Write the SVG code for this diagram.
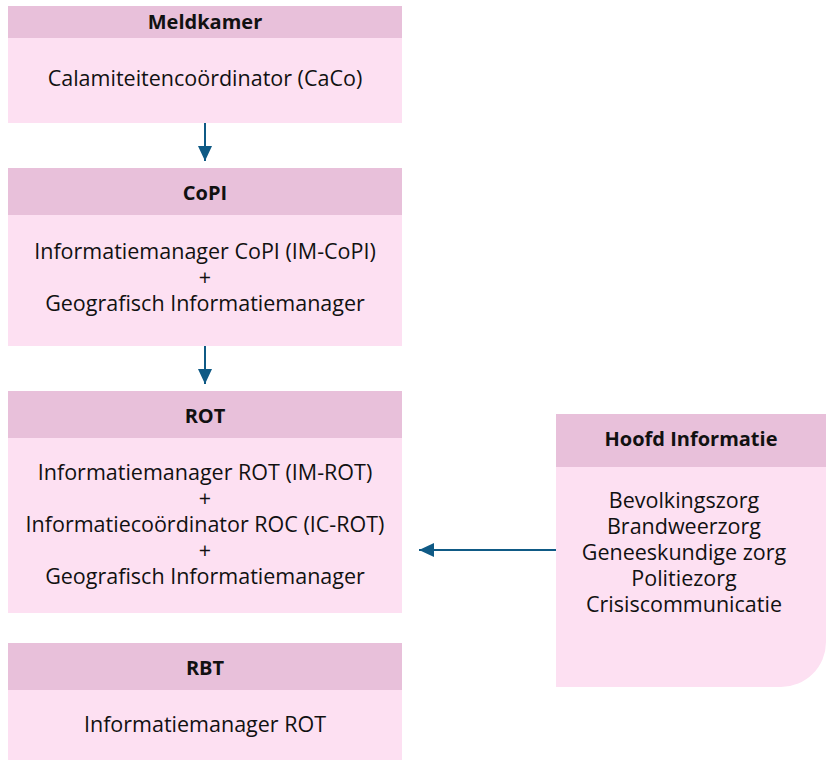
<svg xmlns="http://www.w3.org/2000/svg" width="826" height="760" viewBox="0 0 826 760">
<style>
.hd{fill:#E8C0DA}
.bd{fill:#FDE0F2}
text{font-family:"Open Sans","Noto Sans","Liberation Sans",sans-serif;font-size:21.5px;fill:#111;text-anchor:middle}
.t{font-weight:bold;font-size:20px}
.c{stroke:#0F5A85;stroke-width:2;fill:none}
</style>
<defs>
<marker id="ah" viewBox="0 0 10 10" refX="10" refY="5" markerWidth="15" markerHeight="14" markerUnits="userSpaceOnUse" orient="auto" preserveAspectRatio="none"><path d="M0,0 L10,5 L0,10 z" fill="#0F5A85"/></marker>
</defs>
<rect width="826" height="760" fill="#fff"/>
<g id="meldkamer">
<rect class="bd" x="8" y="6" width="394" height="117"/>
<rect class="hd" x="8" y="6" width="394" height="32"/>
<text class="t" x="205" y="29">Meldkamer</text>
<text x="205" y="86">Calamiteitencoördinator (CaCo)</text>
</g>
<g id="copi">
<rect class="bd" x="8" y="168" width="394" height="178"/>
<rect class="hd" x="8" y="168" width="394" height="47"/>
<text class="t" x="205" y="200">CoPI</text>
<text x="205" y="259">Informatiemanager CoPI (IM-CoPI)</text>
<text x="205" y="285">+</text>
<text x="205" y="311">Geografisch Informatiemanager</text>
</g>
<g id="rot">
<rect class="bd" x="8" y="391" width="394" height="222"/>
<rect class="hd" x="8" y="391" width="394" height="47"/>
<text class="t" x="205" y="423">ROT</text>
<text x="205" y="480">Informatiemanager ROT (IM-ROT)</text>
<text x="205" y="506">+</text>
<text x="205" y="532">Informatiecoördinator ROC (IC-ROT)</text>
<text x="205" y="558">+</text>
<text x="205" y="584">Geografisch Informatiemanager</text>
</g>
<g id="rbt">
<rect class="bd" x="8" y="643" width="394" height="117"/>
<rect class="hd" x="8" y="643" width="394" height="47"/>
<text class="t" x="205" y="675">RBT</text>
<text x="205" y="732">Informatiemanager ROT</text>
</g>
<g id="hoofd-informatie">
<path class="bd" d="M556,414 H826 V642 A45,45 0 0 1 781,687 H556 Z"/>
<rect class="hd" x="556" y="414" width="270" height="53"/>
<text class="t" x="691" y="446">Hoofd Informatie</text>
<text x="684" y="508">Bevolkingszorg</text>
<text x="684" y="534">Brandweerzorg</text>
<text x="684" y="560">Geneeskundige zorg</text>
<text x="684" y="586">Politiezorg</text>
<text x="684" y="612">Crisiscommunicatie</text>
</g>
<g id="connectors">
<line class="c" x1="205" y1="123" x2="205" y2="161" marker-end="url(#ah)"/>
<line class="c" x1="205" y1="346" x2="205" y2="384" marker-end="url(#ah)"/>
<line class="c" x1="556" y1="550" x2="419" y2="550" marker-end="url(#ah)"/>
</g>
</svg>
